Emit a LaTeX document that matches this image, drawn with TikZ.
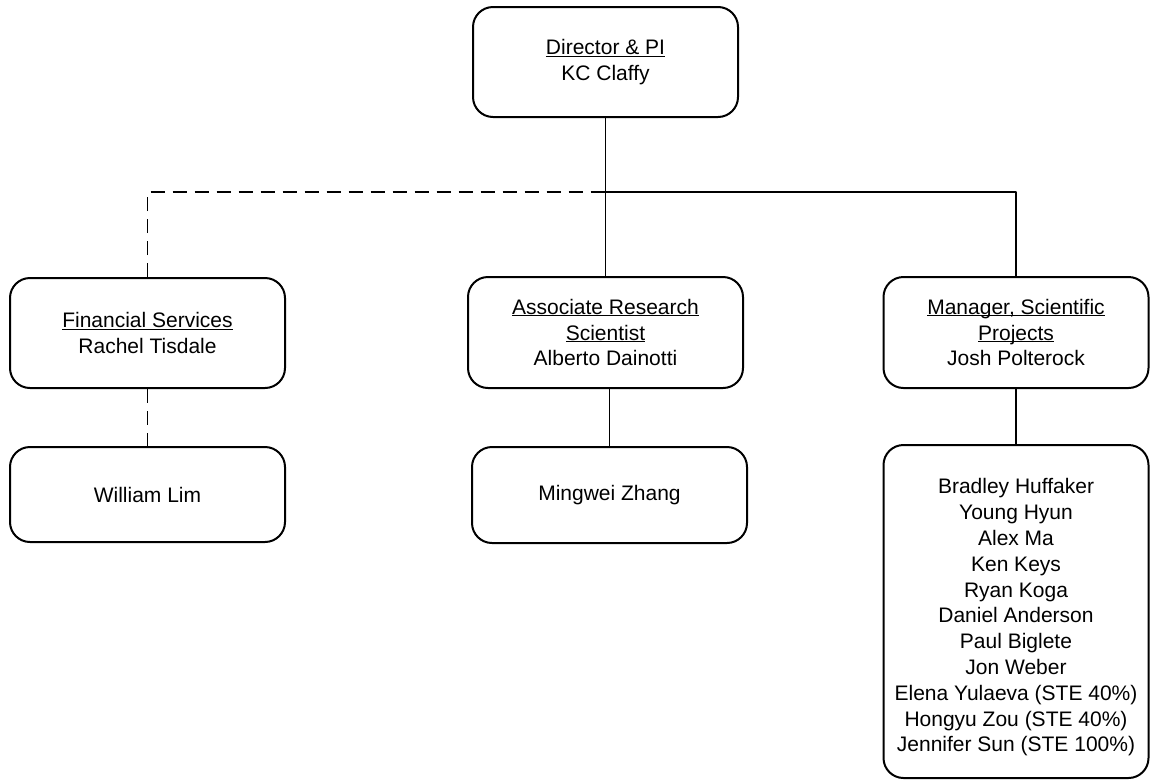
\documentclass[tikz,border=0pt]{standalone}
\usepackage{fontspec}
\setmainfont{Liberation Sans}
\newcommand{\ulin}[1]{\underline{\raisebox{0pt}[\height][0pt]{#1}}}
\begin{document}
\begin{tikzpicture}
% Org chart, one unit = one pixel of the source
\def\pxsz{1pt}
\providecommand{\orgBoxLineWidth}{2pt}
\providecommand{\orgLinkLineWidth}{1.8pt}
\providecommand{\orgBoxRadius}{20pt}
\begin{scope}[x=\pxsz, y=-\pxsz, line join=round,
  orgbox/.style={draw=black, line width=\orgBoxLineWidth, rounded corners=\orgBoxRadius,
    align=center, inner sep=0pt, minimum width=275pt, font=\fontsize{21}{25.8}\selectfont},
  orglink/.style={draw=black, line width=\orgLinkLineWidth},
  orgdash/.style={orglink, dash pattern=on 14pt off 8pt}]
  % Page frame
  \useasboundingbox (0,0) rectangle (1150,780);
  % Top level
  \node[orgbox, minimum width=265pt, minimum height=110pt] (director) at (605.5,62)
    {\ulin{Director \& PI}\\KC Claffy};
  % Second level
  \node[orgbox, minimum height=110pt] (finance) at (147.5,333)
    {\ulin{Financial Services}\\Rachel Tisdale};
  \node[orgbox, minimum height=111pt] (assoc) at (605.5,332.5)
    {\ulin{Associate Research}\\\ulin{Scientist}\\Alberto Dainotti};
  \node[orgbox, minimum width=265pt, minimum height=111pt] (manager) at (1016,332.5)
    {\ulin{Manager, Scientific}\\\ulin{Projects}\\Josh Polterock};
  % Third level
  \node[orgbox, minimum height=95pt] (william) at (147.5,494.5) {William Lim};
  \node[orgbox, minimum height=96pt] (mingwei) at (609.5,495) {Mingwei Zhang};
  \node[orgbox, minimum width=265pt, minimum height=333pt] (staff) at (1016,611.5)
    {\rule{0pt}{27pt}Bradley Huffaker\\Young Hyun\\Alex Ma\\Ken Keys\\Ryan Koga\\Daniel Anderson\\
     Paul Biglete\\Jon Weber\\Elena Yulaeva (STE 40\%)\\Hongyu Zou (STE 40\%)\\
     Jennifer Sun (STE 100\%)};
  % Connectors
  \coordinate (bus) at (605.5,192);
  \draw[orglink] (director.south) -- (assoc.north);
  \draw[orgdash] (finance.north) |- (bus);
  \draw[orglink] (bus) -| (manager.north);
  \draw[orgdash] (finance.south) -- (william.north);
  \draw[orglink] (assoc.south -| mingwei.north) -- (mingwei.north);
  \draw[orglink] (manager.south) -- (staff.north);
\end{scope}
\end{tikzpicture}
\end{document}
